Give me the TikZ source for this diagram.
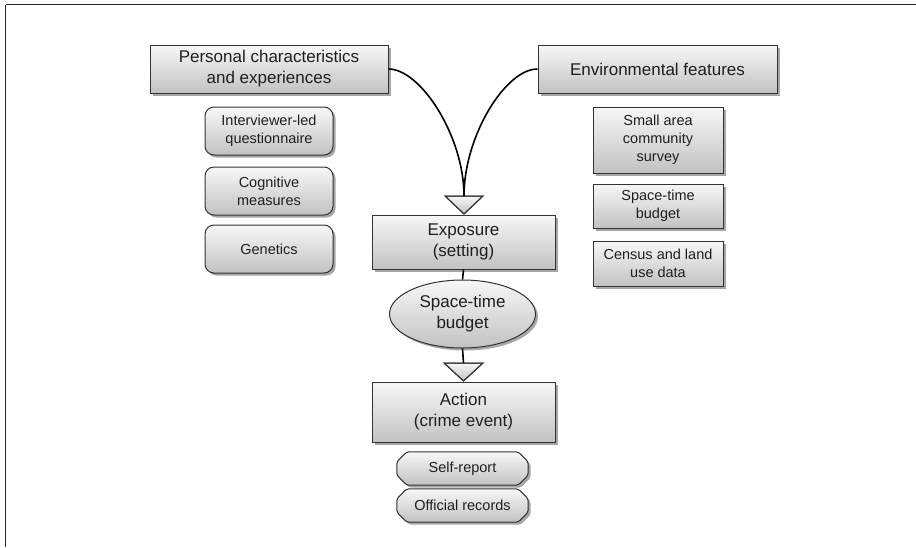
\documentclass[tikz,border=0pt]{standalone}
\usepackage{fontspec}
\setmainfont{Liberation Sans}
\usetikzlibrary{shapes.geometric,shadows,backgrounds}

\newcommand{\bigtxt}{\fontsize{17}{21}\selectfont}
\newcommand{\smalltxt}{\fontsize{14.5}{18}\selectfont}

\tikzset{
  boxfill/.style={top color=gray!6, bottom color=gray!48, draw=black!80, line width=1pt,
    drop shadow={shadow xshift=2.5pt, shadow yshift=-2.5pt, opacity=0.35, fill=black}},
  mainbox/.style={boxfill, rectangle, align=center, text=black!88, font=\bigtxt, inner sep=2pt},
  subbox/.style={boxfill, rectangle, align=center, text=black!88, font=\smalltxt, inner sep=2pt,
    minimum width=130pt},
  roundbox/.style={subbox, rounded corners=9pt, minimum width=128pt, minimum height=48pt},
  chamtext/.style={rectangle, align=center, text=black!88, font=\smalltxt,
    minimum width=131pt, minimum height=33pt, inner sep=1pt},
  ovalbox/.style={boxfill, ellipse, align=center, text=black!88, font=\bigtxt,
    minimum width=146pt, minimum height=68pt, inner sep=0pt},
  link/.style={line width=1.6pt, black},
  headfill/.style={top color=gray!6, bottom color=gray!48, draw=black!80, line width=1pt}
}

% octagonal outline with cut corners, drawn behind a named node
\newcommand{\chamferbehind}[1]{%
  \begin{scope}[on background layer]
    \path[boxfill, rounded corners=2pt]
      ([xshift=10pt]#1.north west) -- ([xshift=-10pt]#1.north east)
      -- ([shift={(0,10)}]#1.north east) -- ([shift={(0,-10)}]#1.south east)
      -- ([xshift=-10pt]#1.south east) -- ([xshift=10pt]#1.south west)
      -- ([shift={(0,-10)}]#1.south west) -- ([shift={(0,10)}]#1.north west) -- cycle;
  \end{scope}}

\begin{document}
\begin{tikzpicture}[x=1pt,y=-1pt]
  \useasboundingbox (0,0) rectangle (916,547);

  % page frame (top and left rules)
  \draw[black!85, line width=1.4pt] (5.5,4.5) -- (916,4.5);
  \draw[black!85, line width=1.4pt] (5.5,4.5) -- (5.5,547);

  % left column: person
  \node[mainbox, minimum width=238pt, minimum height=48pt] (pers) at (269,69)
    {Personal characteristics\\and experiences};
  \node[roundbox] (iq) at (269,131) {Interviewer-led\\questionnaire};
  \node[roundbox] (cog) at (269,191) {Cognitive\\measures};
  \node[roundbox] (gen) at (269,249) {Genetics};

  % right column: environment
  \node[mainbox, minimum width=239pt, minimum height=48pt] (env) at (657.5,69)
    {Environmental features};
  \node[subbox, minimum height=66pt] (sas) at (658,140) {Small area\\community\\survey};
  \node[subbox, minimum height=44pt] (stb) at (658,206) {Space-time\\budget};
  \node[subbox, minimum height=45pt] (cen) at (658,263.5) {Census and land\\use data};

  % centre column
  \node[mainbox, minimum width=183pt, minimum height=54pt] (expo) at (463.5,242)
    {Exposure\\(setting)};
  \node[ovalbox] (ell) at (462.5,314) {Space-time\\budget};
  \node[mainbox, minimum width=183pt, minimum height=60pt] (act) at (463.5,412)
    {Action\\(crime event)};
  \node[chamtext] (self) at (462.5,468.5) {Self-report};
  \chamferbehind{self}
  \node[chamtext] (off) at (462.5,505.5) {Official records};
  \chamferbehind{off}

  % arrow heads sitting on the boxes
  \coordinate (h1) at (464,196);
  \coordinate (h2) at (463.5,363);
  \shade[headfill] (h1) ++(-19,0) -- ++(38,0) -- (464,214) -- cycle;
  \draw[black!80, line width=1pt] (h1) ++(-19,0) -- ++(38,0) -- (464,214) -- cycle;
  \shade[headfill] (h2) ++(-19.5,0) -- ++(39,0) -- (463.5,381) -- cycle;
  \draw[black!80, line width=1pt] (h2) ++(-19.5,0) -- ++(39,0) -- (463.5,381) -- cycle;

  % connectors
  \draw[link] (pers.east) .. controls +(32,0) and +(0,-60) .. (h1);
  \draw[link] (env.west) .. controls +(-32,0) and +(0,-60) .. (h1);
  \draw[link] (expo.south) -- (ell.north);
  \draw[link] (ell.south) -- (h2);
\end{tikzpicture}
\end{document}
